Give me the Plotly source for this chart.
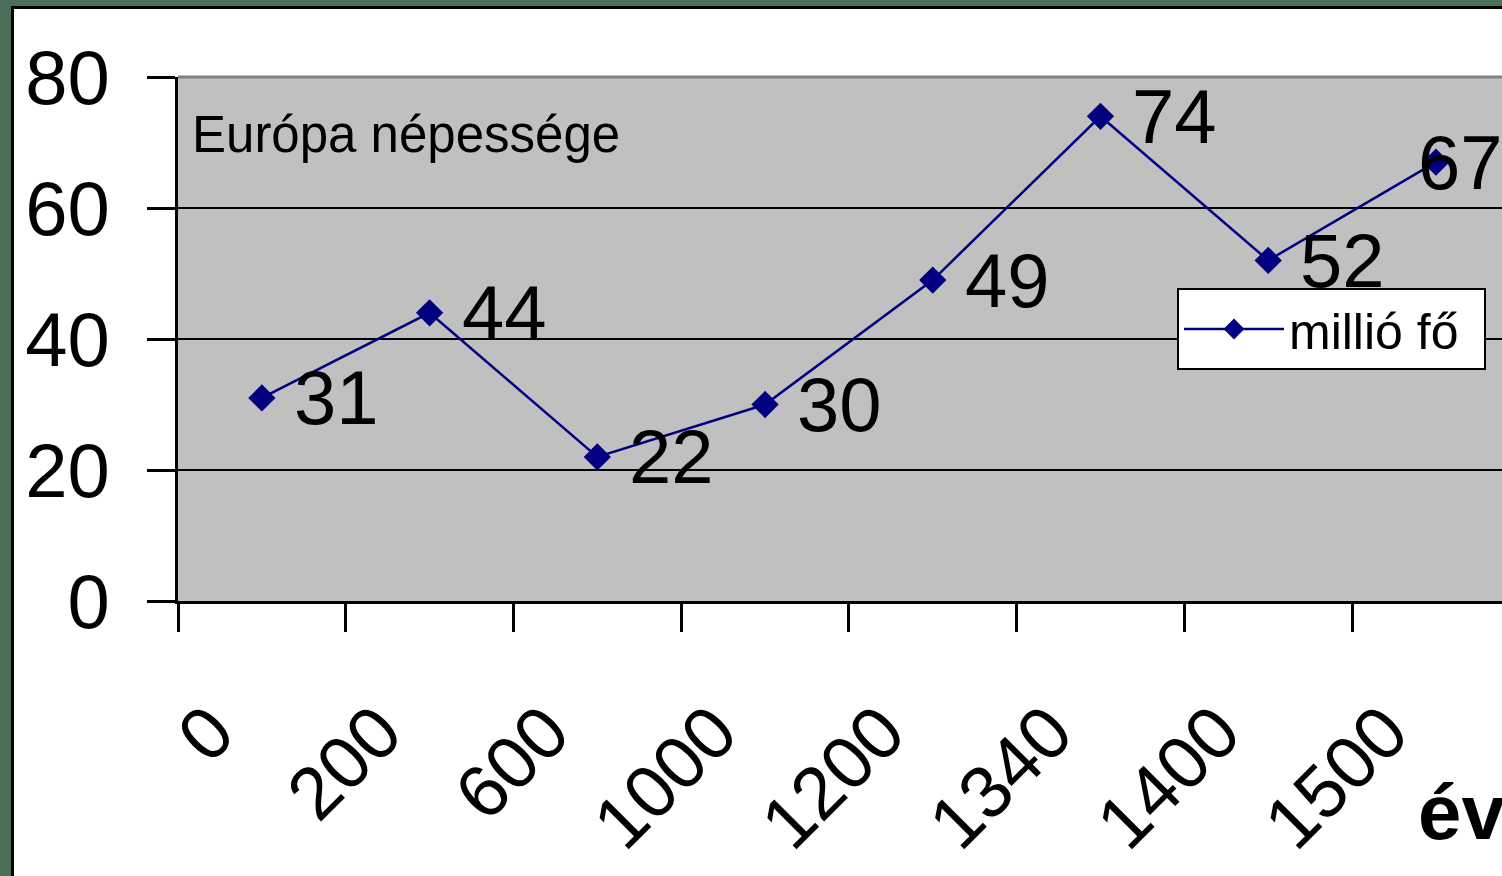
import plotly.graph_objects as go

years = ["0", "200", "600", "1000", "1200", "1340", "1400", "1500"]
population = [31, 44, 22, 30, 49, 74, 52, 67]
series_name = "millió fő"
chart_title = "Európa népessége"
x_title = "év"
y_ticks = [0, 20, 40, 60, 80]

W, H = 1502, 876
L, R, T, B = 178, 0, 77, 275
PW, PH = W - L - R, H - T - B

def px_x(p):
    return (p - L) / PW

def px_y(p):
    return (H - B - p) / PH

FONT = "Arial, Liberation Sans, sans-serif"
NAVY = "#000080"
GREEN = "#4b6f59"

idx = list(range(len(years)))

fig = go.Figure()
fig.add_trace(go.Scatter(
    x=idx, y=population, mode="lines+markers", name=series_name,
    line=dict(color=NAVY, width=2.5),
    marker=dict(symbol="diamond", size=21, color=NAVY),
))

annotations = []
for i, v in zip(idx, population):
    shift = 30 if i < len(years) - 1 else -20
    annotations.append(dict(
        x=i, y=v, xref="x", yref="y", text=str(v), showarrow=False,
        xanchor="left", yanchor="middle", xshift=shift, yshift=0,
        font=dict(family=FONT, size=76, color="black"),
    ))

annotations.append(dict(
    x=px_x(190), y=px_y(134), xref="paper", yref="paper", text=chart_title,
    showarrow=False, xanchor="left", yanchor="middle",
    font=dict(family=FONT, size=51, color="black"),
))
annotations.append(dict(
    x=px_x(1416), y=px_y(812), xref="paper", yref="paper", text="<b>" + x_title + "</b>",
    showarrow=False, xanchor="left", yanchor="middle",
    font=dict(family=FONT, size=78, color="black"),
))

shapes = [
    dict(type="line", xref="paper", yref="paper", x0=0, x1=1, y0=1, y1=1,
         line=dict(color="#808080", width=3), layer="above"),
    dict(type="rect", xref="paper", yref="paper", x0=px_x(0), x1=px_x(W), y0=px_y(0), y1=px_y(6),
         fillcolor=GREEN, line=dict(width=0), layer="above"),
    dict(type="rect", xref="paper", yref="paper", x0=px_x(0), x1=px_x(11), y0=px_y(0), y1=px_y(H),
         fillcolor=GREEN, line=dict(width=0), layer="above"),
    dict(type="line", xref="paper", yref="paper", x0=px_x(11), x1=px_x(W), y0=px_y(7.5), y1=px_y(7.5),
         line=dict(color="black", width=3), layer="above"),
    dict(type="line", xref="paper", yref="paper", x0=px_x(12.5), x1=px_x(12.5), y0=px_y(6), y1=px_y(H),
         line=dict(color="black", width=3), layer="above"),
]

fig.update_layout(
    width=W, height=H,
    margin=dict(l=L, r=R, t=T, b=B, autoexpand=False),
    paper_bgcolor="white", plot_bgcolor="#C0C0C0",
    font=dict(family=FONT, color="black"),
    showlegend=True,
    legend=dict(
        x=px_x(1177), y=px_y(288), xanchor="left", yanchor="top",
        orientation="h",
        bgcolor="white", bordercolor="black", borderwidth=2,
        font=dict(family=FONT, size=50, color="black"),
        itemwidth=100, entrywidth=190, entrywidthmode="pixels",
    ),
    annotations=annotations,
    shapes=shapes,
)

fig.update_xaxes(
    range=[-0.5, 7.394], tickmode="array", tickvals=idx, ticktext=years,
    ticks="", showline=True, linecolor="black", linewidth=3,
    showgrid=False, zeroline=False, tickangle=-45,
    ticklabelshift=-50, ticklabelstandoff=55,
    tickfont=dict(family=FONT, size=74, color="black"),
    minor=dict(tickvals=[i - 0.5 for i in idx] + [len(idx) - 0.5], ticks="outside",
               ticklen=28, tickwidth=3, tickcolor="black", showgrid=False),
)
fig.update_yaxes(
    range=[0, 80], tickvals=y_ticks,
    ticks="outside", ticklen=28, tickwidth=3, tickcolor="black",
    showline=True, linecolor="black", linewidth=3,
    showgrid=True, gridcolor="black", gridwidth=2, zeroline=False,
    ticklabelstandoff=22,
    tickfont=dict(family=FONT, size=76, color="black"),
)

fig.write_html(
    "out.html",
    config={"displayModeBar": False},
    post_script="document.body.style.margin='0';document.body.style.overflow='hidden';",
)
